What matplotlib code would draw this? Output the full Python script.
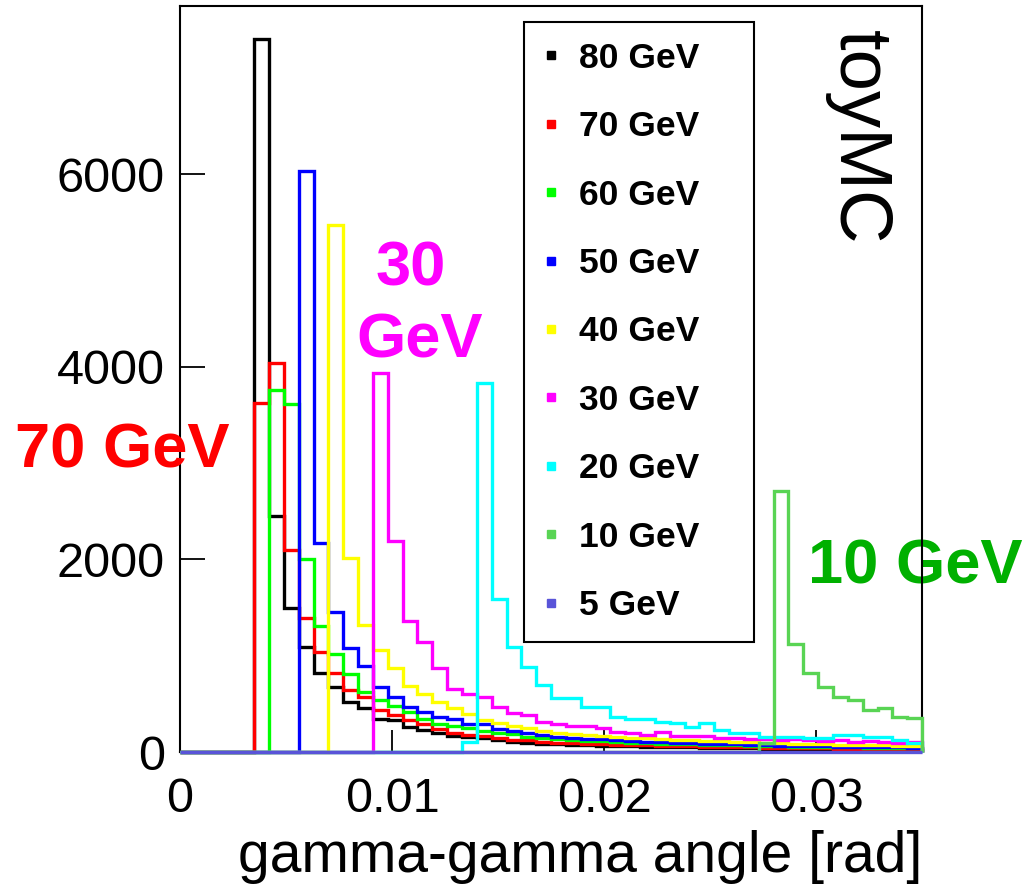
import matplotlib
matplotlib.use('Agg')
import matplotlib.pyplot as plt
import numpy as np
from matplotlib.lines import Line2D
from matplotlib.ticker import FixedLocator, FixedFormatter

plt.rcParams['font.family'] = ['Liberation Sans', 'DejaVu Sans']

# histogram binning: 50 bins of 0.0007 rad from 0 to 0.035
bin_width = 0.0007
n_bins = 50
edges = np.arange(n_bins + 1) * bin_width

# counts per bin
h80 = [0, 0, 0, 0, 0, 7400, 2450, 1490, 1090, 820,
       675, 515, 455, 345, 330, 260, 228, 197, 166, 156,
       145, 125, 104, 93, 83, 80, 72, 70, 62, 66,
       58, 55, 52, 50, 47, 45, 42, 44, 38, 36,
       35, 33, 30, 31, 28, 27, 26, 25, 24, 22]
h70 = [0, 0, 0, 0, 0, 3620, 4040, 2100, 1390, 1040,
       823, 645, 571, 436, 384, 332, 290, 239, 197, 176,
       166, 145, 125, 120, 104, 95, 90, 85, 80, 75,
       72, 68, 64, 60, 58, 55, 52, 50, 47, 45,
       43, 41, 40, 38, 36, 35, 33, 32, 31, 30]
h60 = [0, 0, 0, 0, 0, 0, 3760, 3615, 2005, 1308,
       1017, 810, 623, 540, 478, 415, 342, 290, 270, 249,
       218, 197, 187, 156, 145, 135, 125, 118, 110, 104,
       98, 92, 88, 84, 80, 76, 72, 68, 65, 62,
       60, 57, 55, 52, 50, 48, 46, 45, 43, 41]
h50 = [0, 0, 0, 0, 0, 0, 0, 0, 6030, 2170,
       1450, 1080, 893, 675, 571, 467, 415, 363, 342, 290,
       290, 239, 218, 197, 176, 160, 150, 140, 130, 122,
       115, 108, 102, 96, 90, 86, 82, 78, 74, 70,
       67, 64, 61, 58, 56, 54, 52, 50, 48, 46]
h40 = [0, 0, 0, 0, 0, 0, 0, 0, 0, 0,
       5470, 2014, 1320, 1059, 877, 685, 602, 519, 457, 394,
       332, 301, 270, 249, 218, 197, 185, 175, 165, 158,
       150, 142, 135, 128, 122, 116, 110, 105, 100, 96,
       92, 88, 84, 80, 77, 74, 71, 68, 65, 63]
h30 = [0, 0, 0, 0, 0, 0, 0, 0, 0, 0,
       0, 0, 0, 3930, 2195, 1360, 1142, 872, 654, 602,
       571, 467, 405, 384, 311, 290, 270, 270, 249, 211,
       197, 176, 208, 166, 166, 166, 145, 145, 135, 130,
       125, 140, 120, 115, 125, 105, 110, 100, 95, 100]
h20 = [0, 0, 0, 0, 0, 0, 0, 0, 0, 0,
       0, 0, 0, 0, 0, 0, 0, 0, 0, 100,
       3830, 1590, 1090, 882, 695, 560, 560, 467, 467, 363,
       342, 342, 311, 301, 260, 301, 228, 197, 200, 159,
       159, 159, 150, 150, 176, 176, 159, 159, 125, 97]
h10 = [0, 0, 0, 0, 0, 0, 0, 0, 0, 0,
       0, 0, 0, 0, 0, 0, 0, 0, 0, 0,
       0, 0, 0, 0, 0, 0, 0, 0, 0, 0,
       0, 0, 0, 0, 0, 0, 0, 0, 0, 90,
       2710, 1125, 817, 671, 574, 540, 436, 453, 367, 350]
h5 = [0] * n_bins

hists = [h80, h70, h60, h50, h40, h30, h20, h10, h5]
energies = [80, 70, 60, 50, 40, 30, 20, 10, 5]
# ROOT colours 1..9
colors = ['#000000', '#ff0000', '#00ff00', '#0000ff', '#ffff00',
          '#ff00ff', '#00ffff', '#59d454', '#5954d8']

x_ticks = [0, 0.01, 0.02, 0.03]
x_tick_labels = ['0', '0.01', '0.02', '0.03']
y_ticks = [0, 2000, 4000, 6000]
y_tick_labels = ['0', '2000', '4000', '6000']

fig = plt.figure(figsize=(10.23, 8.89), dpi=100)
ax = fig.add_axes([0.176, 0.1541, 0.7253, 0.8392])

for vals, col in zip(hists, colors):
    ax.stairs(vals, edges, color=col, lw=2.4, baseline=0, clip_on=False, zorder=3)

ax.set_xlim(0, 0.035)
ax.set_ylim(0, 7745)

ax.xaxis.set_major_locator(FixedLocator(x_ticks))
ax.xaxis.set_major_formatter(FixedFormatter(x_tick_labels))
ax.yaxis.set_major_locator(FixedLocator(y_ticks))
ax.yaxis.set_major_formatter(FixedFormatter(y_tick_labels))
ax.tick_params(axis='both', direction='in', width=1.3, labelsize=35,
               top=False, right=False)
ax.tick_params(axis='y', length=18, pad=11)
ax.tick_params(axis='x', length=16, pad=18)
for sp in ax.spines.values():
    sp.set_linewidth(1.5)

ax.set_xlabel('gamma-gamma angle [rad]', fontsize=41, ha='right')
ax.xaxis.set_label_coords(1.0, -0.104)

# legend
handles = [Line2D([], [], ls='none', marker='s', ms=6, color=c) for c in colors]
labels = [f'{e} GeV' for e in energies]
leg = ax.legend(handles, labels, loc='upper left',
                bbox_to_anchor=(0.4636, 0.1542, 0.31, 0.8244), mode='expand',
                prop=dict(weight='bold', size=25.5), borderpad=0.56,
                labelspacing=1.0, handlelength=0.42, handletextpad=0.58,
                borderaxespad=0, fancybox=False, framealpha=1, edgecolor='black')
leg.get_frame().set_linewidth(1.5)

# annotations
W, H = 1023, 889
ax.text(15 / W, 1 - 468 / H, '70 GeV', transform=fig.transFigure, color='#ff0000',
        fontsize=45.5, fontweight='bold', ha='left', va='baseline', clip_on=False)
ax.text(411 / W, 1 - 285 / H, '30', transform=fig.transFigure, color='#ff00ff',
        fontsize=45.5, fontweight='bold', ha='center', va='baseline', clip_on=False)
ax.text(420 / W, 1 - 357 / H, 'GeV', transform=fig.transFigure, color='#ff00ff',
        fontsize=45.5, fontweight='bold', ha='center', va='baseline', clip_on=False)
ax.text(808 / W, 1 - 583 / H, '10 GeV', transform=fig.transFigure, color='#00b000',
        fontsize=45.5, fontweight='bold', ha='left', va='baseline', clip_on=False,
        zorder=2)
ax.text(858 / W, 1 - 30 / H, 'toyMC', transform=fig.transFigure, color='black',
        fontsize=53.5, rotation=270, ha='center', va='top', clip_on=False)

fig.savefig('out.png', dpi=100)
